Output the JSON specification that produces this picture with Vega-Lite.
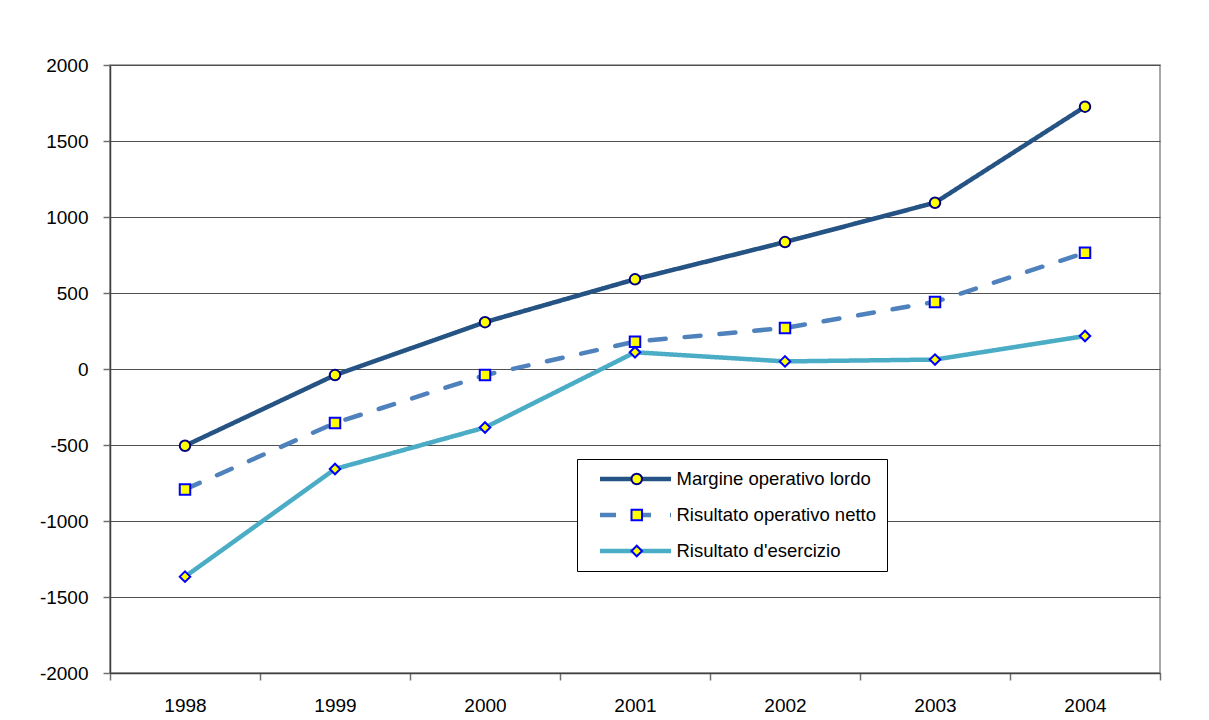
{
  "$schema": "https://vega.github.io/schema/vega-lite/v6.json",
  "width": 1050,
  "height": 608,
  "autosize": {"type": "none"},
  "padding": {"left": 110, "top": 65, "right": 49, "bottom": 47},
  "background": "#ffffff",
  "config": {
    "font": "Liberation Sans",
    "view": {"stroke": "#8a8a8a", "strokeWidth": 1.5},
    "axis": {
      "labelFont": "Liberation Sans",
      "labelFontSize": 19,
      "labelColor": "#000000",
      "domainColor": "#404040",
      "domainWidth": 1.5,
      "tickColor": "#707070",
      "tickSize": 7,
      "tickWidth": 1.5,
      "title": null
    },
    "legend": {
      "labelFont": "Liberation Sans",
      "labelFontSize": 18.5,
      "labelColor": "#000000",
      "labelLimit": 0
    }
  },
  "data": {
    "values": [
      {"anno": "1998", "serie": "Margine operativo lordo", "valore": -505},
      {"anno": "1999", "serie": "Margine operativo lordo", "valore": -40},
      {"anno": "2000", "serie": "Margine operativo lordo", "valore": 308},
      {"anno": "2001", "serie": "Margine operativo lordo", "valore": 590},
      {"anno": "2002", "serie": "Margine operativo lordo", "valore": 835},
      {"anno": "2003", "serie": "Margine operativo lordo", "valore": 1094},
      {"anno": "2004", "serie": "Margine operativo lordo", "valore": 1726},
      {"anno": "1998", "serie": "Risultato operativo netto", "valore": -792},
      {"anno": "1999", "serie": "Risultato operativo netto", "valore": -355},
      {"anno": "2000", "serie": "Risultato operativo netto", "valore": -40},
      {"anno": "2001", "serie": "Risultato operativo netto", "valore": 180},
      {"anno": "2002", "serie": "Risultato operativo netto", "valore": 270},
      {"anno": "2003", "serie": "Risultato operativo netto", "valore": 441},
      {"anno": "2004", "serie": "Risultato operativo netto", "valore": 765},
      {"anno": "1998", "serie": "Risultato d'esercizio", "valore": -1366},
      {"anno": "1999", "serie": "Risultato d'esercizio", "valore": -658},
      {"anno": "2000", "serie": "Risultato d'esercizio", "valore": -385},
      {"anno": "2001", "serie": "Risultato d'esercizio", "valore": 110},
      {"anno": "2002", "serie": "Risultato d'esercizio", "valore": 50},
      {"anno": "2003", "serie": "Risultato d'esercizio", "valore": 62},
      {"anno": "2004", "serie": "Risultato d'esercizio", "valore": 217}
    ]
  },
  "encoding": {
    "x": {
      "field": "anno",
      "type": "ordinal",
      "bandPosition": 0.5,
      "scale": {"type": "band", "paddingInner": 0, "paddingOuter": 0},
      "axis": {"labelAngle": 0, "tickBand": "extent", "labelPadding": 16, "grid": false}
    },
    "y": {
      "field": "valore",
      "type": "quantitative",
      "scale": {"domain": [-2000, 2000], "nice": false, "zero": false},
      "axis": {
        "values": [-2000, -1500, -1000, -500, 0, 500, 1000, 1500, 2000],
        "grid": true,
        "gridColor": "#505050",
        "gridWidth": 1.2,
        "labelPadding": 15,
        "labelExpr": "toString(datum.value)"
      }
    }
  },
  "layer": [
    {
      "mark": {"type": "line", "strokeWidth": 4.5, "strokeCap": "round", "strokeJoin": "round"},
      "encoding": {
        "color": {
          "field": "serie",
          "type": "nominal",
          "sort": ["Margine operativo lordo", "Risultato operativo netto", "Risultato d'esercizio"],
          "scale": {
            "domain": ["Margine operativo lordo", "Risultato operativo netto", "Risultato d'esercizio"],
            "range": ["#255384", "#4F81BD", "#4BACC6"]
          },
          "legend": {
            "title": null,
            "orient": "none",
            "legendX": 467,
            "legendY": 394,
            "symbolType": "stroke",
            "symbolSize": 5041,
            "symbolStrokeWidth": 4.5,
            "symbolOffset": 10.5,
            "labelOffset": 3,
            "padding": 10,
            "clipHeight": 20,
            "rowPadding": 16,
            "fillColor": "#ffffff",
            "strokeColor": "#000000",
            "zindex": 1
          }
        },
        "strokeDash": {
          "field": "serie",
          "type": "nominal",
          "sort": ["Margine operativo lordo", "Risultato operativo netto", "Risultato d'esercizio"],
          "scale": {
            "domain": ["Margine operativo lordo", "Risultato operativo netto", "Risultato d'esercizio"],
            "range": [[1, 0], [16, 19], [1, 0]]
          },
          "legend": {
            "title": null,
            "orient": "none",
            "legendX": 467,
            "legendY": 394,
            "symbolType": "stroke",
            "symbolSize": 5041,
            "symbolStrokeWidth": 4.5,
            "symbolOffset": 10.5,
            "labelOffset": 3,
            "padding": 10,
            "clipHeight": 20,
            "rowPadding": 16,
            "fillColor": "#ffffff",
            "strokeColor": "#000000",
            "zindex": 1
          }
        }
      }
    },
    {
      "mark": {"type": "point", "filled": true, "fill": "#FFFF00", "strokeWidth": 2, "size": 110, "opacity": 1},
      "encoding": {
        "shape": {
          "field": "serie",
          "type": "nominal",
          "sort": ["Margine operativo lordo", "Risultato operativo netto", "Risultato d'esercizio"],
          "scale": {
            "domain": ["Margine operativo lordo", "Risultato operativo netto", "Risultato d'esercizio"],
            "range": ["circle", "square", "diamond"]
          },
          "legend": {
            "title": null,
            "orient": "none",
            "legendX": 467,
            "legendY": 394,
            "symbolSize": 110,
            "symbolFillColor": "#FFFF00",
            "symbolStrokeColor": "#0000FF",
            "symbolStrokeWidth": 2,
            "symbolOffset": 40.5,
            "labelOffset": 0,
            "labelExpr": "''",
            "padding": 10,
            "clipHeight": 20,
            "rowPadding": 16,
            "zindex": 2
          }
        },
        "stroke": {
          "field": "serie",
          "type": "nominal",
          "scale": {
            "domain": ["Margine operativo lordo", "Risultato operativo netto", "Risultato d'esercizio"],
            "range": ["#000080", "#0000FF", "#0000FF"]
          },
          "legend": null
        }
      }
    }
  ],
  "resolve": {
    "scale": {"color": "independent", "stroke": "independent", "shape": "independent", "strokeDash": "independent"},
    "legend": {"color": "independent", "stroke": "independent", "shape": "independent", "strokeDash": "independent"}
  }
}
